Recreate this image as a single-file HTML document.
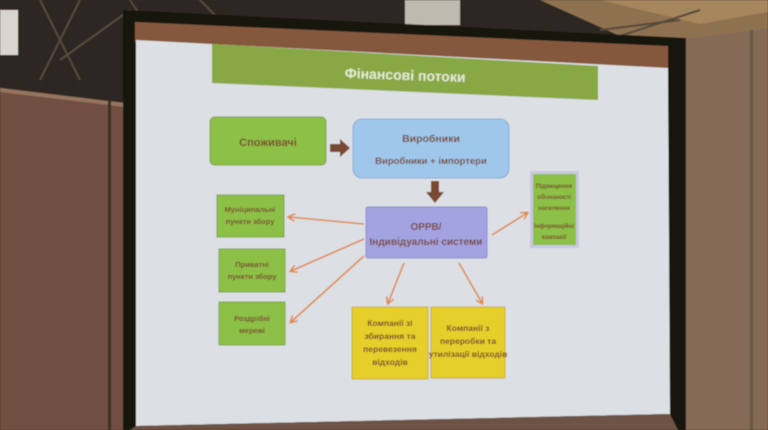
<!DOCTYPE html>
<html><head><meta charset="utf-8"><style>
html,body{margin:0;padding:0;width:768px;height:430px;overflow:hidden;background:#3a3128}
svg{display:block}
text{font-family:"Liberation Sans","DejaVu Sans",sans-serif;font-weight:bold;text-anchor:middle}
</style></head><body>
<svg width="768" height="430" viewBox="0 0 768 430" xmlns="http://www.w3.org/2000/svg">
<defs>
<marker id="ah" markerWidth="8" markerHeight="8" refX="6" refY="4" orient="auto" markerUnits="userSpaceOnUse">
<path d="M0,0 L7,4 L0,8" fill="none" stroke="#e08a48" stroke-width="1.6"/></marker>
<filter id="bl"><feGaussianBlur stdDeviation="0.5"/></filter>
</defs>
<g filter="url(#bl)">
<rect width="768" height="430" fill="#2e2822"/>
<polygon points="540,0 768,0 768,30 680,42 620,36" fill="#8e7250"/>
<polygon points="600,0 768,0 768,12 700,24" fill="#a6865c"/>
<g stroke="#55483c" stroke-width="2" fill="none">
<path d="M40,0 L80,80 M80,0 L40,80 M130,0 L170,60 M200,0 L240,40 M60,60 L130,10 M600,30 L680,20 M620,36 L700,10"/>
</g>
<rect x="0" y="10" width="18" height="45" fill="#d8d4ce"/>
<rect x="405" y="0" width="55" height="25" fill="#bfb9af"/>
<polygon points="0,88 125,105 125,430 0,430" fill="#715040"/>
<polygon points="0,88 125,103 125,107 0,92" fill="#947460"/>
<rect x="108" y="100" width="3" height="330" fill="#3e2e24"/>
<polygon points="678,40 768,28 768,430 678,430" fill="#866a58"/>
<rect x="750" y="30" width="3" height="400" fill="#6a5444"/>
<polygon points="123,10 686,38 686,430 123,430" fill="#141210"/>
<polygon points="135,22 668,46 668,70 135,42" fill="#85593e"/>
<polygon points="136,40 668,68 670,414 136,426" fill="#dcdfe4"/>
<polygon points="136,426 670,414 678,430 130,430" fill="#6d5244"/>
<polygon points="212,44 598,66 598,100 212,83" fill="#88a845"/>
<text x="405" y="80" font-size="14" fill="#e4ead4" transform="rotate(2 405 80)">Фінансові потоки</text>
<rect x="210" y="117" width="116" height="48" rx="5" fill="#8dc046" stroke="#7aa63c"/>
<text x="268" y="146" font-size="11" fill="#7a4a30">Споживачі</text>
<polygon points="330,144 340,144 340,139 350,148 340,157 340,152 330,152" fill="#7a4a30"/>
<rect x="353" y="119" width="156" height="59" rx="9" fill="#9fc7eb" stroke="#86aed6"/>
<text x="431" y="142" font-size="10.5" fill="#7a4a30">Виробники</text>
<text x="431" y="164" font-size="9.5" fill="#7a4a30">Виробники + імпортери</text>
<polygon points="431,181 439,181 439,192 444,192 435,203 426,192 431,192" fill="#7a4a30"/>
<rect x="366" y="207" width="121" height="51" rx="2" fill="#a3a3e2" stroke="#8c8cd0"/>
<text x="426" y="230" font-size="10" fill="#7a4a30">ОРРВ/</text>
<text x="426" y="245" font-size="10" fill="#7a4a30">Індивідуальні системи</text>
<rect x="217" y="195" width="67" height="42" fill="#8dc046" stroke="#7aa63c"/>
<text x="250" y="212" font-size="7.5" fill="#7a4a30">Муніципальні</text>
<text x="250" y="224" font-size="7.5" fill="#7a4a30">пункти збору</text>
<rect x="219" y="249" width="66" height="43" fill="#8dc046" stroke="#7aa63c"/>
<text x="252" y="267" font-size="7.5" fill="#7a4a30">Приватні</text>
<text x="252" y="279" font-size="7.5" fill="#7a4a30">пункти збору</text>
<rect x="219" y="302" width="66" height="43" fill="#8dc046" stroke="#7aa63c"/>
<text x="252" y="321" font-size="7.5" fill="#7a4a30">Роздрібні</text>
<text x="252" y="333" font-size="7.5" fill="#7a4a30">мережі</text>
<rect x="530" y="171" width="49" height="77" fill="#c9c6e2"/>
<rect x="533" y="174" width="43" height="71" fill="#8dc046"/>
<g font-size="6" fill="#7a4a30"><text x="554" y="188">Підвищення</text><text x="554" y="199">обізнаності</text><text x="554" y="210">населення</text><text x="554" y="228">Інформаційні</text><text x="554" y="239">кампанії</text></g>
<rect x="352" y="307" width="76" height="72" fill="#e6cf2c" stroke="#c9b020"/>
<g font-size="8.5" fill="#7a4a30"><text x="390" y="326">Компанії зі</text><text x="390" y="339">збирання та</text><text x="390" y="352">перевезення</text><text x="390" y="365">відходів</text></g>
<rect x="431" y="307" width="74" height="71" fill="#e6cf2c" stroke="#c9b020"/>
<g font-size="8.5" fill="#7a4a30"><text x="468" y="331">Компанії з</text><text x="468" y="344">переробки та</text><text x="468" y="357">утилізації відходів</text></g>
<g stroke="#e08a48" stroke-width="1.6" fill="none" marker-end="url(#ah)">
<line x1="364" y1="224" x2="289" y2="217"/>
<line x1="364" y1="239" x2="291" y2="271"/>
<line x1="364" y1="256" x2="291" y2="322"/>
<line x1="404" y1="263" x2="388" y2="303"/>
<line x1="459" y1="263" x2="482" y2="303"/>
<line x1="492" y1="235" x2="527" y2="213"/>
</g>
</g>
</svg>
</body></html>
